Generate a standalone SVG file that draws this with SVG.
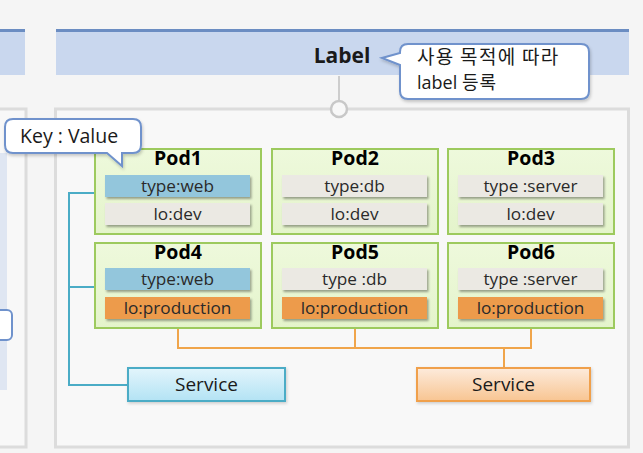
<svg xmlns="http://www.w3.org/2000/svg" width="643" height="453" viewBox="0 0 643 453">
<style>
text{font-family:"Open Sans","Noto Sans CJK KR",sans-serif;fill:#1a1a1a}
.pod{fill:url(#podg);stroke:#9dca5e;stroke-width:2}
.pt{font-weight:bold;font-size:19.5px;text-anchor:middle;fill:#000}
.bar{filter:url(#sh)}
.blue{fill:#93c6dc}
.gray{fill:#ebe9e3}
.orange{fill:#ed9b4c}
.bt{font-size:17.2px;text-anchor:middle;fill:#2a2a2a}
.call{fill:#fff;stroke:#6f92cc;stroke-width:2;filter:url(#sh2)}
.panel{fill:#f8f8f8;stroke:#dcdcdc;stroke-width:3}
.hdr{fill:#c9d7ee}
.hdrtop{fill:#6b8dc2}
.st{font-size:19px;text-anchor:middle;fill:#1a1a1a}
.ko{font-family:"Noto Sans CJK KR",sans-serif}
</style>
<defs>
<linearGradient id="podg" x1="0" y1="0" x2="0" y2="1">
<stop offset="0" stop-color="#eef9dc"/>
<stop offset="1" stop-color="#e4f4cb"/>
</linearGradient>
<linearGradient id="sbg" x1="0" y1="0" x2="0" y2="1">
<stop offset="0" stop-color="#e3f5fc"/>
<stop offset="1" stop-color="#b3e3f4"/>
</linearGradient>
<linearGradient id="sog" x1="0" y1="0" x2="0" y2="1">
<stop offset="0" stop-color="#fdebdc"/>
<stop offset="1" stop-color="#f8c592"/>
</linearGradient>
<filter id="sh" x="-10%" y="-30%" width="120%" height="170%">
<feDropShadow dx="1.5" dy="2" stdDeviation="1" flood-color="#000" flood-opacity="0.35"/>
</filter>
<filter id="sh2" x="-10%" y="-20%" width="125%" height="150%">
<feDropShadow dx="1" dy="2" stdDeviation="1.5" flood-color="#000" flood-opacity="0.2"/>
</filter>
<filter id="sh3" x="-10%" y="-10%" width="120%" height="125%">
<feDropShadow dx="1" dy="1.5" stdDeviation="1.5" flood-color="#000" flood-opacity="0.18"/>
</filter>
</defs>
<rect width="643" height="453" fill="#f5f5f5"/>

<g id="left-panel">
<rect x="0" y="30" width="25" height="45" class="hdr"/>
<rect x="0" y="29" width="25" height="3" class="hdrtop"/>
<rect x="-3" y="109" width="29" height="338" class="panel"/>
<rect x="0" y="153" width="7" height="237" fill="#dfe6f2"/>
<rect x="-8" y="310" width="20" height="30" rx="5" fill="#fff" stroke="#6f92cc" stroke-width="2"/>
</g>

<g id="main-panel">
<rect x="56" y="30" width="573" height="45" class="hdr"/>
<rect x="56" y="29" width="573" height="3" class="hdrtop"/>
<rect x="55.5" y="109" width="573" height="338" class="panel"/>
</g>

<g id="label-title">
<text x="342" y="63" font-size="21" font-weight="bold" text-anchor="middle" fill="#000">Label</text>
</g>

<g id="label-anchor">
<line x1="339" y1="76" x2="339" y2="101" stroke="#bfbfbf" stroke-width="1.5"/>
<circle cx="339" cy="109" r="8" fill="#f8f8f8" stroke="#c8c8c8" stroke-width="2.5"/>
</g>

<g id="label-callout">
<path class="call" d="M408,44 H581 Q589,44 589,52 V91 Q589,99 581,99 H408 Q400,99 400,91 V65 L382,58 L400,53 V52 Q400,44 408,44 Z"/>
<text x="417" y="64" class="ko" font-size="19" letter-spacing="1.3">사용 목적에 따라</text>
<text x="417" y="89" font-size="18">label <tspan class="ko" letter-spacing="1">등록</tspan></text>
</g>

<g id="connectors" fill="none" stroke-width="2">
<polyline points="128,385 69,385 69,193 95,193" stroke="#4bacc6"/>
<line x1="69" y1="287" x2="95" y2="287" stroke="#4bacc6"/>
<polyline points="178,328 178,348 531,348 531,328" stroke="#f0a54b"/>
<line x1="355" y1="328" x2="355" y2="348" stroke="#f0a54b"/>
<line x1="504" y1="348" x2="504" y2="368" stroke="#f0a54b"/>
</g>

<g id="pod1">
<rect x="95" y="149" width="166" height="85" class="pod"/>
<text x="178" y="165" class="pt">Pod1</text>
<rect x="105" y="175" width="145" height="22" class="bar blue"/>
<text x="177.5" y="192" class="bt">type:web</text>
<rect x="105" y="203" width="145" height="22" class="bar gray"/>
<text x="177.5" y="220" class="bt">lo:dev</text>
</g>
<g id="pod2">
<rect x="272" y="149" width="166" height="85" class="pod"/>
<text x="355" y="165" class="pt">Pod2</text>
<rect x="282" y="175" width="145" height="22" class="bar gray"/>
<text x="354.5" y="192" class="bt">type:db</text>
<rect x="282" y="203" width="145" height="22" class="bar gray"/>
<text x="354.5" y="220" class="bt">lo:dev</text>
</g>
<g id="pod3">
<rect x="448" y="149" width="166" height="85" class="pod"/>
<text x="531" y="165" class="pt">Pod3</text>
<rect x="458" y="175" width="145" height="22" class="bar gray"/>
<text x="530.5" y="192" class="bt">type :server</text>
<rect x="458" y="203" width="145" height="22" class="bar gray"/>
<text x="530.5" y="220" class="bt">lo:dev</text>
</g>
<g id="pod4">
<rect x="95" y="243" width="166" height="85" class="pod"/>
<text x="178" y="259" class="pt">Pod4</text>
<rect x="105" y="268" width="145" height="22" class="bar blue"/>
<text x="177.5" y="285" class="bt">type:web</text>
<rect x="105" y="297" width="145" height="22" class="bar orange"/>
<text x="177.5" y="314" class="bt">lo:production</text>
</g>
<g id="pod5">
<rect x="272" y="243" width="166" height="85" class="pod"/>
<text x="355" y="259" class="pt">Pod5</text>
<rect x="282" y="268" width="145" height="22" class="bar gray"/>
<text x="354.5" y="285" class="bt">type :db</text>
<rect x="282" y="297" width="145" height="22" class="bar orange"/>
<text x="354.5" y="314" class="bt">lo:production</text>
</g>
<g id="pod6">
<rect x="448" y="243" width="166" height="85" class="pod"/>
<text x="531" y="259" class="pt">Pod6</text>
<rect x="458" y="268" width="145" height="22" class="bar gray"/>
<text x="530.5" y="285" class="bt">type :server</text>
<rect x="458" y="297" width="145" height="22" class="bar orange"/>
<text x="530.5" y="314" class="bt">lo:production</text>
</g>

<g id="key-callout">
<path class="call" d="M13,119 H133 Q141,119 141,127 V145 Q141,153 133,153 H122 L122,166 L107,153 H13 Q5,153 5,145 V127 Q5,119 13,119 Z"/>
<text x="20" y="143" font-size="19.5">Key : Value</text>
</g>

<g id="service-blue">
<rect x="128" y="368" width="157" height="33" fill="url(#sbg)" stroke="#4bacc6" stroke-width="2" filter="url(#sh3)"/>
<text x="206.5" y="391" class="st">Service</text>
</g>
<g id="service-orange">
<rect x="417" y="368" width="173" height="33" fill="url(#sog)" stroke="#f0a04b" stroke-width="2" filter="url(#sh3)"/>
<text x="503.5" y="391" class="st">Service</text>
</g>
</svg>
